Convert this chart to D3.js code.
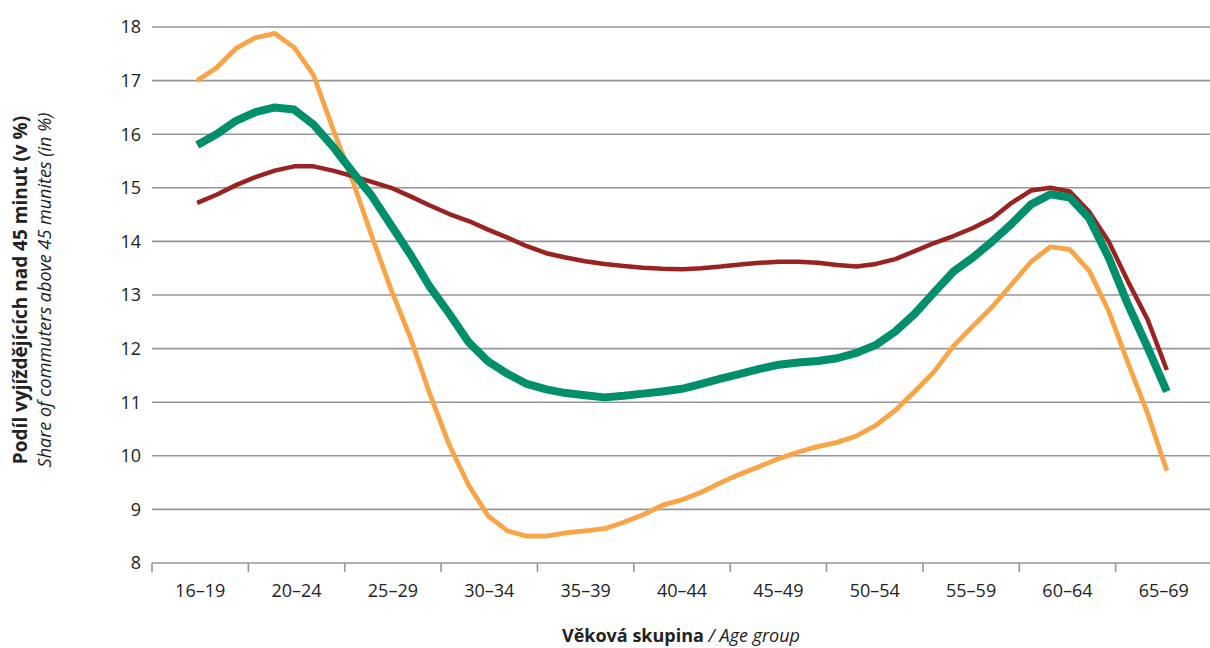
<!DOCTYPE html>
<html>
<head>
<meta charset="utf-8">
<script src="https://cdn.jsdelivr.net/npm/d3@7"></script>
<style>
  body { margin: 0; background: #fff; }
  svg text { font-family: "Open Sans", "Noto Sans", sans-serif; fill: #222; }
</style>
</head>
<body>
<div id="chart"></div>
<script>
// age groups on the x axis
const ageGroups = ["16–19", "20–24", "25–29", "30–34", "35–39", "40–44", "45–49", "50–54", "55–59", "60–64", "65–69"];
const yTicks = [8, 9, 10, 11, 12, 13, 14, 15, 16, 17, 18];

// every series has 51 readings, five per step between group centres
const seriesRed = [14.72, 14.87, 15.05, 15.2, 15.32, 15.4, 15.4, 15.32, 15.22, 15.11,
    15.0, 14.84, 14.67, 14.51, 14.38, 14.22, 14.07, 13.91, 13.78, 13.7,
    13.63, 13.58, 13.54, 13.51, 13.49, 13.48, 13.5, 13.53, 13.57, 13.6,
    13.62, 13.62, 13.6, 13.56, 13.53, 13.58, 13.67, 13.82, 13.97, 14.1,
    14.25, 14.43, 14.72, 14.95, 15.0, 14.93, 14.55, 14.0, 13.25, 12.55, 11.6];
const seriesGreen = [15.8, 16.0, 16.25, 16.41, 16.5, 16.46, 16.18, 15.77, 15.3, 14.85,
    14.3, 13.75, 13.15, 12.65, 12.12, 11.76, 11.53, 11.34, 11.24, 11.17,
    11.13, 11.09, 11.12, 11.16, 11.2, 11.25, 11.34, 11.44, 11.53, 11.62,
    11.7, 11.74, 11.77, 11.82, 11.92, 12.07, 12.32, 12.65, 13.05, 13.44,
    13.7, 14.0, 14.33, 14.69, 14.88, 14.82, 14.43, 13.7, 12.82, 12.03, 11.2];
const seriesOrange = [17.0, 17.24, 17.6, 17.8, 17.88, 17.62, 17.1, 16.1, 15.15, 14.1,
    13.1, 12.2, 11.15, 10.2, 9.45, 8.88, 8.6, 8.5, 8.5, 8.56,
    8.6, 8.64, 8.76, 8.9, 9.08, 9.18, 9.32, 9.5, 9.66, 9.8,
    9.95, 10.07, 10.17, 10.25, 10.37, 10.57, 10.85, 11.2, 11.57, 12.05,
    12.42, 12.78, 13.2, 13.62, 13.9, 13.85, 13.45, 12.7, 11.73, 10.8, 9.72];

const width = 1210, height = 648;
const margin = {top: 27, right: -2, bottom: 85, left: 152};

const svg = d3.select("#chart").append("svg")
    .attr("width", width)
    .attr("height", height);

const x = d3.scaleBand()
    .domain(ageGroups)
    .range([margin.left, width - margin.right])
    .padding(0);

const y = d3.scaleLinear()
    .domain([8, 18])
    .range([height - margin.bottom, margin.top]);

// position along the axis, measured in age groups from the first centre
const xPos = d3.scaleLinear()
    .domain([0, ageGroups.length - 1])
    .range([x(ageGroups[0]) + x.bandwidth() / 2 - 3, x(ageGroups[ageGroups.length - 1]) + x.bandwidth() / 2 + 3]);

// gridlines
svg.append("g")
    .selectAll("line")
    .data(yTicks)
    .enter()
    .append("line")
    .attr("x1", margin.left)
    .attr("x2", width)
    .attr("y1", d => y(d))
    .attr("y2", d => y(d))
    .attr("stroke", "#969696")
    .attr("stroke-width", 1.6);

// y tick labels
svg.append("g")
    .selectAll("text")
    .data(yTicks)
    .enter()
    .append("text")
    .attr("x", margin.left - 11)
    .attr("y", d => y(d))
    .attr("dy", "0.36em")
    .attr("text-anchor", "end")
    .style("font-size", "18px")
    .text(d => d);

// x axis ticks at the group boundaries
svg.append("g")
    .selectAll("line")
    .data(ageGroups)
    .enter()
    .append("line")
    .attr("x1", d => x(d))
    .attr("x2", d => x(d))
    .attr("y1", y(8))
    .attr("y2", y(8) + 9)
    .attr("stroke", "#969696")
    .attr("stroke-width", 1.6);

svg.append("g")
    .selectAll("text")
    .data(ageGroups)
    .enter()
    .append("text")
    .attr("x", d => x(d) + x.bandwidth() / 2)
    .attr("y", y(8) + 34)
    .attr("text-anchor", "middle")
    .style("font-size", "18px")
    .text(d => d);

// axis titles
let xTitle = svg.append("text")
    .attr("x", (margin.left + width) / 2)
    .attr("y", 642)
    .attr("text-anchor", "middle")
    .style("font-size", "18px");
xTitle.append("tspan").style("font-weight", "bold").text("Věková skupina");
xTitle.append("tspan").style("font-style", "italic").text(" / Age group");

const yMid = (y(8) + y(18)) / 2 - 5;
svg.append("text")
    .attr("transform", `translate(27, ${yMid}) rotate(-90)`)
    .attr("text-anchor", "middle")
    .style("font-size", "19px")
    .style("font-weight", "bold")
    .text("Podíl vyjíždějících nad 45 minut (v %)");

svg.append("text")
    .attr("transform", `translate(51, ${yMid}) rotate(-90)`)
    .attr("text-anchor", "middle")
    .style("font-size", "18px")
    .style("font-style", "italic")
    .text("Share of commuters above 45 munites (in %)");

// lines
const line = d3.line()
    .x((d, i) => xPos(i / 5))
    .y(d => y(d));

const lines = [
    {values: seriesOrange, color: "#f9a547", width: 4.8},
    {values: seriesRed, color: "#9a2322", width: 4.5},
    {values: seriesGreen, color: "#008f6b", width: 8}
];

svg.append("g")
    .selectAll("path")
    .data(lines)
    .enter()
    .append("path")
    .attr("d", d => line(d.values))
    .attr("fill", "none")
    .attr("stroke", d => d.color)
    .attr("stroke-width", d => d.width)
    .attr("stroke-linejoin", "round");
</script>
</body>
</html>
